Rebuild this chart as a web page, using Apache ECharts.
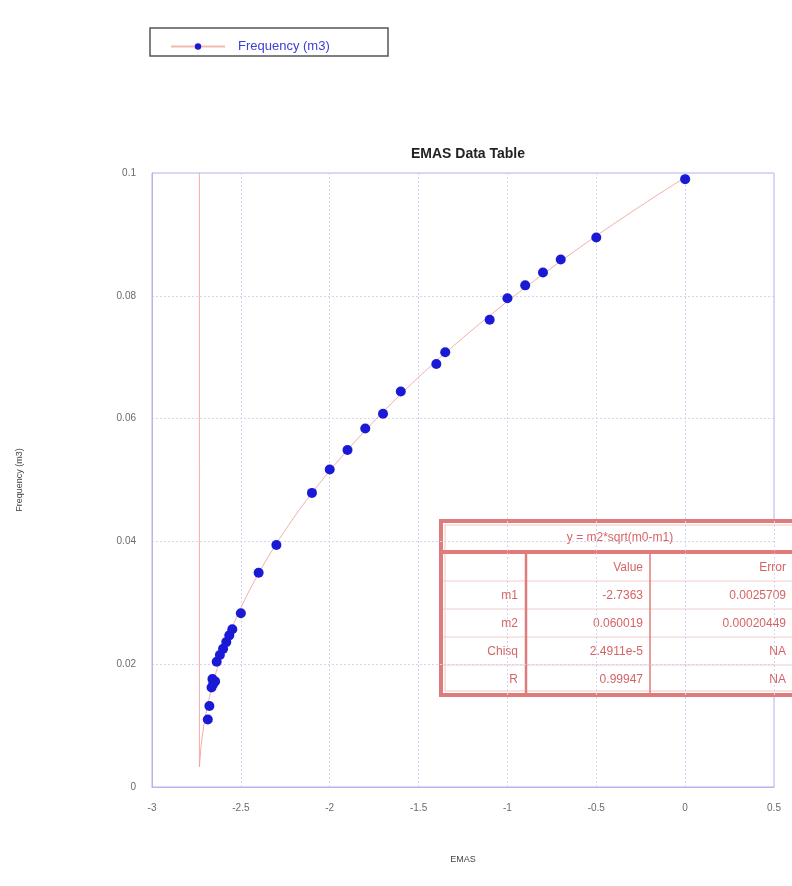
<!DOCTYPE html>
<html>
<head>
<meta charset="utf-8">
<title>EMAS Data Table</title>
<script src="https://cdn.jsdelivr.net/npm/echarts@6/dist/echarts.min.js"></script>
<style>
  html, body { margin: 0; padding: 0; background: #ffffff; }
  #chart { width: 792px; height: 886px; }
</style>
</head>
<body>
<div id="chart"></div>
<script>
// Measured EMAS values and the matching frequency (m3)
const emas = [0, -0.5, -0.7, -0.8, -0.9, -1.0, -1.1, -1.35, -1.4, -1.6, -1.7, -1.8,
  -1.9, -2.0, -2.1, -2.3, -2.4, -2.5, -2.548, -2.565, -2.582, -2.6, -2.618, -2.636,
  -2.645, -2.655, -2.66, -2.665, -2.677, -2.686];
const frequency = [0.0990, 0.0895, 0.0859, 0.0838, 0.0817, 0.0796, 0.0761, 0.0708,
  0.0689, 0.0644, 0.0608, 0.0584, 0.0549, 0.0517, 0.0479, 0.0394, 0.0349, 0.0283,
  0.0257, 0.0247, 0.0236, 0.0225, 0.0215, 0.0204, 0.0172, 0.0168, 0.0176, 0.0162,
  0.0132, 0.0110];

// Curve fit y = m2*sqrt(m0-m1)
const fitTitle = 'y = m2*sqrt(m0-m1)';
const fitNames = ['m1', 'm2', 'Chisq', 'R'];
const fitValues = ['-2.7363', '0.060019', '2.4911e-5', '0.99947'];
const fitErrors = ['0.0025709', '0.00020449', 'NA', 'NA'];
const m1 = -2.7363;
const m2 = 0.060019;

// Axis ticks
const xTicks = [-3, -2.5, -2, -1.5, -1, -0.5, 0, 0.5];
const yTicks = [0, 0.02, 0.04, 0.06, 0.08, 0.1];

// Sampled fitted curve from just right of m1 up to the last measurement
const fitCurve = [];
const xStart = m1 + 0.003;
const xEnd = Math.max(...emas);
fitCurve.push([xStart, yTicks[yTicks.length - 1]]);
for (let i = 0; i <= 300; i++) {
  const x = xStart + (xEnd - xStart) * i / 300;
  fitCurve.push([x, m2 * Math.sqrt(x - m1)]);
}

const points = emas.map((x, i) => [x, frequency[i]]);

const chart = echarts.init(document.getElementById('chart'), null, { renderer: 'canvas' });

// Fit-results table geometry
const T = { x: 441, y: 521, w: 362, headH: 29, rowH: 28, c1: 526, c2: 650 };
const tableRed = '#e07b7b';
const tableText = '#d66464';
const tableFont = '12px "Liberation Sans", Arial, sans-serif';
const rows = [['', 'Value', 'Error']].concat(fitNames.map((n, i) => [n, fitValues[i], fitErrors[i]]));
const bodyTop = T.y + T.headH + 3;
const tableH = T.headH + 3 + rows.length * T.rowH + 2;
const tableEls = [];
tableEls.push({ type: 'rect', shape: { x: T.x, y: T.y, width: T.w, height: tableH },
  style: { fill: '#ffffff', stroke: tableRed, lineWidth: 4 } });
tableEls.push({ type: 'rect', shape: { x: T.x + 4, y: T.y + 4, width: T.w - 8, height: tableH - 8 },
  style: { fill: 'none', stroke: '#f2c4c4', lineWidth: 1 } });
tableEls.push({ type: 'line', shape: { x1: T.x, y1: bodyTop - 1, x2: T.x + T.w, y2: bodyTop - 1 },
  style: { stroke: tableRed, lineWidth: 4 } });
tableEls.push({ type: 'text', style: { text: fitTitle, x: 620, y: T.y + T.headH / 2 + 2,
  textAlign: 'center', textVerticalAlign: 'middle', font: tableFont, fill: tableText } });
rows.forEach((r, i) => {
  const top = bodyTop + i * T.rowH;
  if (i > 0) {
    tableEls.push({ type: 'line', shape: { x1: T.x + 2, y1: top, x2: T.x + T.w, y2: top },
      style: { stroke: '#f0cccc', lineWidth: 1 } });
  }
  const cy = top + T.rowH / 2 + 1;
  tableEls.push({ type: 'text', style: { text: r[0], x: T.c1 - 8, y: cy, textAlign: 'right',
    textVerticalAlign: 'middle', font: tableFont, fill: tableText } });
  tableEls.push({ type: 'text', style: { text: r[1], x: T.c2 - 7, y: cy, textAlign: 'right',
    textVerticalAlign: 'middle', font: tableFont, fill: tableText } });
  tableEls.push({ type: 'text', style: { text: r[2], x: 786, y: cy, textAlign: 'right',
    textVerticalAlign: 'middle', font: tableFont, fill: tableText } });
});
tableEls.push({ type: 'line', shape: { x1: T.c1, y1: bodyTop, x2: T.c1, y2: T.y + tableH },
  style: { stroke: tableRed, lineWidth: 2.5 } });
tableEls.push({ type: 'line', shape: { x1: T.c2, y1: bodyTop, x2: T.c2, y2: T.y + tableH },
  style: { stroke: tableRed, lineWidth: 1.5 } });

const axisGrey = '#6a6a6a';
const gridColor = '#d4d4f2';

chart.setOption({
  backgroundColor: '#ffffff',
  animation: false,
  textStyle: { fontFamily: '"Liberation Sans", Arial, sans-serif' },
  title: {
    text: 'EMAS Data Table',
    left: 463, top: 142, textAlign: 'center',
    textStyle: { fontSize: 14, fontWeight: 'bold', color: '#222222' }
  },
  legend: {
    left: 165, top: 35,
    itemWidth: 54, itemHeight: 8, itemGap: 10,
    data: ['Frequency (m3)'],
    textStyle: { color: '#3d3dd8', fontSize: 13, padding: [0, 0, 0, 8] }
  },
  grid: {
    left: 152, right: 18, top: 173, bottom: 99,
    show: true, borderColor: '#b4b4ee', borderWidth: 1
  },
  xAxis: {
    type: 'value', min: xTicks[0], max: xTicks[xTicks.length - 1], interval: 0.5,
    name: 'EMAS', nameLocation: 'middle', nameGap: 68,
    nameTextStyle: { fontSize: 9, color: '#444444' },
    axisLine: { show: true, onZero: false, lineStyle: { color: '#b4b4ee' } },
    axisTick: { show: false },
    axisLabel: { color: axisGrey, fontSize: 10, margin: 16 },
    splitLine: { show: true, lineStyle: { color: gridColor, type: [2, 2] } }
  },
  yAxis: {
    type: 'value', min: yTicks[0], max: yTicks[yTicks.length - 1], interval: 0.02,
    name: 'Frequency (m3)', nameLocation: 'middle', nameGap: 128,
    nameTextStyle: { fontSize: 9, color: '#444444' },
    axisLine: { show: true, onZero: false, lineStyle: { color: '#b4b4ee' } },
    axisTick: { show: false },
    axisLabel: { color: axisGrey, fontSize: 10, margin: 16 },
    splitLine: { show: true, lineStyle: { color: gridColor, type: [2, 2] } }
  },
  series: [
    {
      name: 'Frequency (m3)',
      type: 'line',
      data: [],
      symbol: 'circle', symbolSize: 8,
      itemStyle: { color: '#1a1ad6', opacity: 1 },
      lineStyle: { color: '#f3b9ad', width: 1 }
    },
    {
      name: 'fit',
      type: 'line',
      data: fitCurve,
      showSymbol: false,
      silent: true,
      lineStyle: { color: '#f0a096', width: 1, opacity: 0.85 },
      z: 2
    },
    {
      name: 'Frequency (m3)',
      type: 'scatter',
      data: points,
      symbol: 'circle', symbolSize: 10,
      itemStyle: { color: '#1a1ad6', opacity: 1 },
      z: 3
    }
  ],
  graphic: [
    { type: 'rect', shape: { x: 150, y: 28, width: 238, height: 28 },
      style: { fill: 'none', stroke: '#555555', lineWidth: 1.5 } },
    { type: 'group', children: tableEls, z: 10 }
  ]
});
</script>
</body>
</html>
